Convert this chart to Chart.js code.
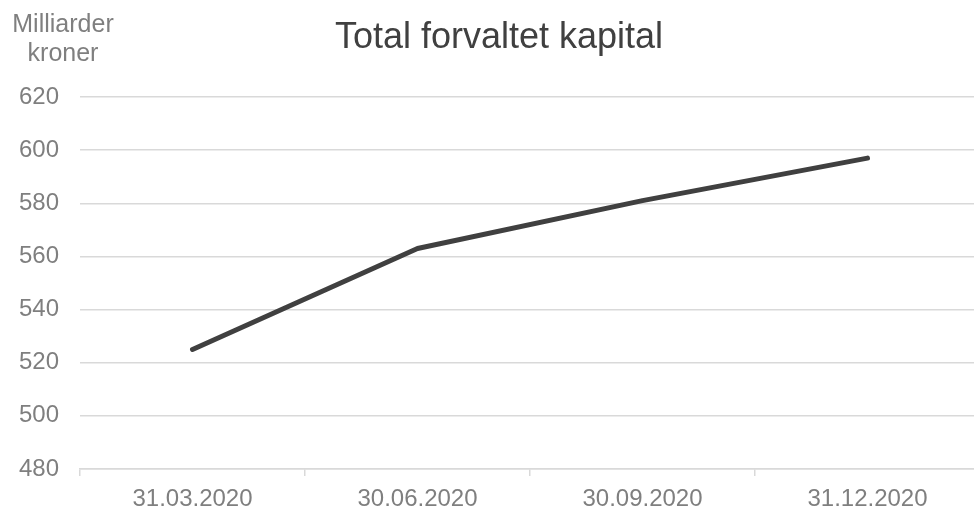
<!DOCTYPE html>
<html>
<head>
<meta charset="utf-8">
<script src="https://cdn.jsdelivr.net/npm/chart.js@4"></script>
<style>
  html, body { margin: 0; padding: 0; overflow: hidden; background: #fff; }
  #wrap { width: 980px; height: 509px; position: relative; }
</style>
</head>
<body>
<div id="wrap"><canvas id="graf"></canvas></div>
<script>
const labels = ['31.03.2020', '30.06.2020', '30.09.2020', '31.12.2020']
const kapital = [525, 563, 581, 597]
const titleText = 'Total forvaltet kapital'
const unitLines = ['Milliarder', 'kroner']

const fontName = '"Liberation Sans", Arial, sans-serif'
const textGray = '#7f7f7f'
const gridGray = '#d9d9d9'

// title and unit label drawn by hand so they sit where the original has them
const textPlugin = {
  id: 'texts',
  afterDraw(chart) {
    const c = chart.ctx
    c.save()
    c.textAlign = 'center'
    c.textBaseline = 'alphabetic'
    c.fillStyle = '#404040'
    c.font = '36px ' + fontName
    c.fillText(titleText, 499, 48)
    c.fillStyle = textGray
    c.font = '25px ' + fontName
    c.fillText(unitLines[0], 63, 32)
    c.fillText(unitLines[1], 63, 61)
    c.restore()
  }
}

const ctx = document.getElementById('graf')
new Chart(ctx, {
  type: 'line',
  data: {
    labels: labels,
    datasets: [{
      label: 'Total forvaltet kapital',
      data: kapital,
      borderColor: '#404040',
      backgroundColor: '#404040',
      borderWidth: 5,
      borderCapStyle: 'round',
      borderJoinStyle: 'round',
      tension: 0,
      pointRadius: 0,
      pointHoverRadius: 0
    }]
  },
  options: {
    responsive: true,
    maintainAspectRatio: false,
    animation: false,
    layout: { padding: { top: 97, left: 0, right: 0, bottom: 0 } },
    plugins: {
      legend: { display: false },
      title: { display: false },
      tooltip: { enabled: false }
    },
    scales: {
      x: {
        offset: true,
        grid: {
          offset: true,
          drawOnChartArea: false,
          drawTicks: true,
          tickLength: 7,
          color: gridGray,
          lineWidth: 1.5
        },
        border: { display: true, color: gridGray, width: 1.5 },
        ticks: {
          color: textGray,
          font: { family: fontName, size: 24 },
          padding: 9,
          maxRotation: 0
        },
        afterFit(scale) { scale.height = 40 }
      },
      y: {
        min: 480,
        max: 620,
        grid: { drawTicks: false, color: gridGray, lineWidth: 1.5 },
        border: { display: false },
        ticks: {
          stepSize: 20,
          color: textGray,
          font: { family: fontName, size: 24 },
          padding: 21
        },
        afterFit(scale) { scale.width = 80 }
      }
    }
  },
  plugins: [textPlugin]
})
</script>
</body>
</html>
